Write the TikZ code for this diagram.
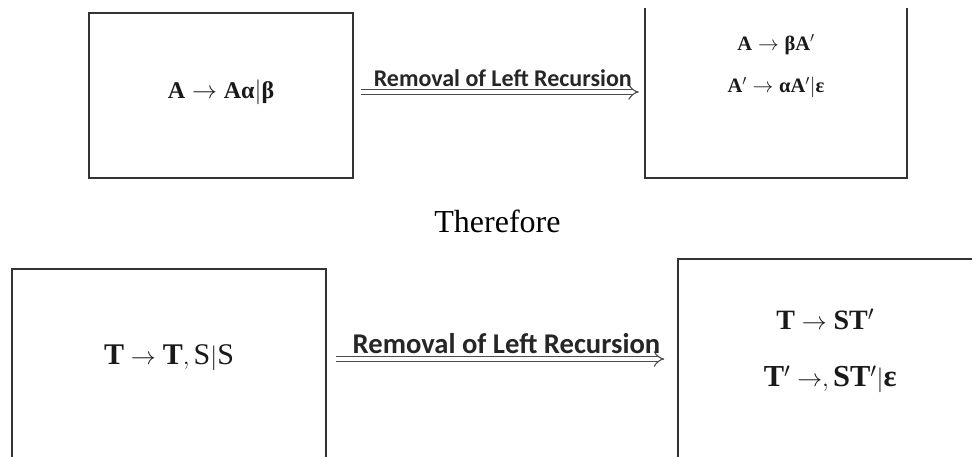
\documentclass[tikz,border=0pt]{standalone}
\usepackage{fontspec}
\setmainfont{Liberation Serif}
\newfontfamily\labelfont{Carlito}
\usepackage{amssymb,amsmath}
\usepackage{bm}
\usetikzlibrary{
arrows,
arrows.meta,
calc,
positioning
}
\tikzset{>=latex}
\tikzset{
	boxline/.style={draw=black!80, line width=1.6pt},
	grammar/.style={text=black!90, inner sep=0pt},
	removal/.style={draw=black!70, line width=1.1pt, double distance=4.4pt, -{Implies[scale=1.4]}},
	steplabel/.style={text=black!85, inner sep=1.5pt, yshift=3.5pt}
}
% upright bold greek letters
\newcommand{\gk}[1]{\text{\bfseries #1}}

\begin{document}
\begin{tikzpicture}[x=1pt, y=-1pt]
	\useasboundingbox (0,0) rectangle (972,457);
	\clip (0,0) rectangle (972,457);

	% first grammar: A -> A alpha | beta
	\node[boxline,minimum width=264pt,minimum height=165pt] (lhsA) at (221,95.5) {};
	\node[minimum width=262pt,minimum height=170pt] (rhsA) at (776,93) {};
	\draw[boxline] (rhsA.north west) -- (rhsA.south west) -- (rhsA.south east) -- (rhsA.north east);

	\node[grammar,font=\fontsize{24}{28}\selectfont] (ruleA) at ([yshift=3.5pt]lhsA.center) {$\mathbf{A}\rightarrow\mathbf{A}\gk{α}|\gk{β}$};
	\node[grammar,font=\fontsize{20.5}{24}\selectfont] (newA) at ([yshift=-37pt]rhsA.north) {$\mathbf{A}\rightarrow\gk{β}\mathbf{A}'$};
	\node[grammar,font=\fontsize{20.5}{24}\selectfont] (newAp) at ([yshift=-80pt]rhsA.north) {$\mathbf{A}'\rightarrow\gk{α}\mathbf{A}'|\gk{ε}$};

	\coordinate (fromA) at ([xshift=7pt,yshift=3.5pt]lhsA.east);
	\draw[removal,shorten >=6pt] (fromA) -- (fromA -| rhsA.west) node[midway,above,steplabel,font=\labelfont\bfseries\fontsize{24}{28}\selectfont] (stepA) {Removal of Left Recursion};

	\node[font=\fontsize{32}{38}\selectfont,anchor=base] (therefore) at (497.5,233) {Therefore};

	% second grammar: T -> T,S | S
	\node[boxline,minimum width=314pt,minimum height=211pt] (lhsT) at (169,374.5) {};
	\node[boxline,minimum width=322pt,minimum height=221pt] (rhsT) at (839,369.5) {};

	\node[grammar,font=\fontsize{30}{36}\selectfont] (ruleT) at ([yshift=-89pt]lhsT.north) {$\mathbf{T}\rightarrow\mathbf{T},\mathrm{S}|\mathrm{S}$};
	\node[grammar,font=\fontsize{28}{34}\selectfont] (newT) at ([shift={(148pt,-61pt)}]rhsT.north west) {$\mathbf{T}\rightarrow\mathbf{S}\mathbf{T}'$};
	\node[grammar,font=\fontsize{30.5}{36}\selectfont] (newTp) at ([shift={(153pt,-121pt)}]rhsT.north west) {$\mathbf{T}'\rightarrow,\mathbf{S}\mathbf{T}'|\gk{ε}$};

	\coordinate (fromT) at ([xshift=9pt,yshift=15.5pt]lhsT.east);
	\draw[removal,shorten >=13pt] (fromT) -- (fromT -| rhsT.west) node[midway,above,steplabel,font=\labelfont\bfseries\fontsize{28.6}{34}\selectfont] (stepT) {Removal of Left Recursion};
\end{tikzpicture}
\end{document}
